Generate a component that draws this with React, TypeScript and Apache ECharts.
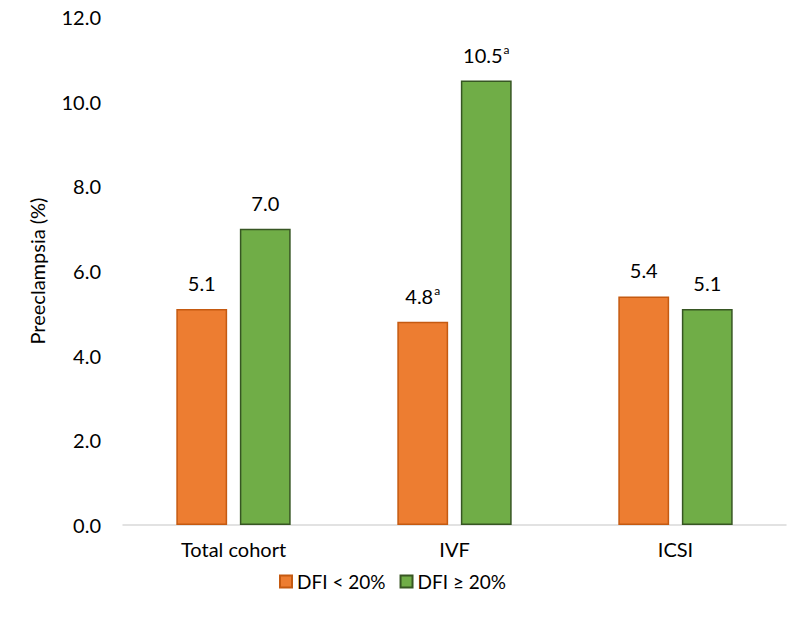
import React, { useEffect, useRef } from "react";
import * as echarts from "echarts";

const categories = ["Total cohort", "IVF", "ICSI"];
const seriesNames = ["DFI < 20%", "DFI \u2265 20%"];
const lowDfi = [5.1, 4.8, 5.4];
const highDfi = [7.0, 10.5, 5.1];
const lowNotes = ["", "a", ""];
const highNotes = ["", "a", ""];
const yTicks = [0, 2, 4, 6, 8, 10, 12];

const FONT = "Lato, 'Open Sans', sans-serif";
const FS = 20;

function makeData(values: number[], notes: string[]) {
  return values.map((v, i) => ({ value: v, note: notes[i] }));
}

export default function App() {
  const ref = useRef<HTMLDivElement>(null);
  useEffect(() => {
    if (!ref.current) return;
    const chart = echarts.init(ref.current, undefined, { renderer: "svg" });
    const labelCfg = {
      show: true,
      position: "top" as const,
      distance: 15,
      fontFamily: FONT,
      fontSize: FS,
      color: "#000",
      formatter: (p: any) =>
        p.data.note
          ? `{v|${p.value.toFixed(1)}}{s|${p.data.note}}`
          : `{v|${p.value.toFixed(1)}}`,
      rich: {
        v: { fontFamily: FONT, fontSize: FS, color: "#000", lineHeight: 22 },
        s: { fontFamily: FONT, fontSize: 12, color: "#000", verticalAlign: "top", lineHeight: 22, padding: [0, 0, 9, 1] },
      },
    };
    chart.setOption({
      animation: false,
      textStyle: { fontFamily: FONT },
      grid: { left: 123, right: 2, top: 17, bottom: 101, containLabel: false },
      legend: {
        bottom: 30,
        left: 274,
        itemWidth: 12,
        itemHeight: 12,
        itemGap: 14,
        icon: "rect",
        textStyle: { fontFamily: FONT, fontSize: 19, color: "#000" },
        data: seriesNames,
      },
      xAxis: {
        type: "category",
        data: categories,
        axisLine: { lineStyle: { color: "#D9D9D9", width: 1.5 } },
        axisTick: { show: false },
        axisLabel: { fontFamily: FONT, fontSize: FS, color: "#000", margin: 14 },
      },
      yAxis: {
        type: "value",
        min: 0,
        max: 12,
        interval: 2,
        name: "Preeclampsia (%)",
        nameLocation: "middle",
        nameGap: 76,
        nameTextStyle: { fontFamily: FONT, fontSize: FS, color: "#000" },
        axisLine: { show: false },
        axisTick: { show: false },
        splitLine: { show: false },
        axisLabel: {
          fontFamily: FONT,
          fontSize: FS,
          color: "#000",
          margin: 22,
          formatter: (v: number) => (yTicks.includes(v) ? v.toFixed(1) : ""),
        },
      },
      series: [
        {
          name: seriesNames[0],
          type: "bar",
          data: makeData(lowDfi, lowNotes),
          barWidth: "23%",
          barGap: "25%",
          itemStyle: { color: "#ED7D31", borderColor: "#C55A11", borderWidth: 1.5 },
          label: labelCfg,
        },
        {
          name: seriesNames[1],
          type: "bar",
          data: makeData(highDfi, highNotes),
          barWidth: "23%",
          itemStyle: { color: "#70AD47", borderColor: "#375623", borderWidth: 1.5 },
          label: labelCfg,
        },
      ],
    });
    return () => chart.dispose();
  }, []);
  return <div ref={ref} style={{ position: "absolute", left: 0, top: 0, width: 788, height: 626 }} />;
}
